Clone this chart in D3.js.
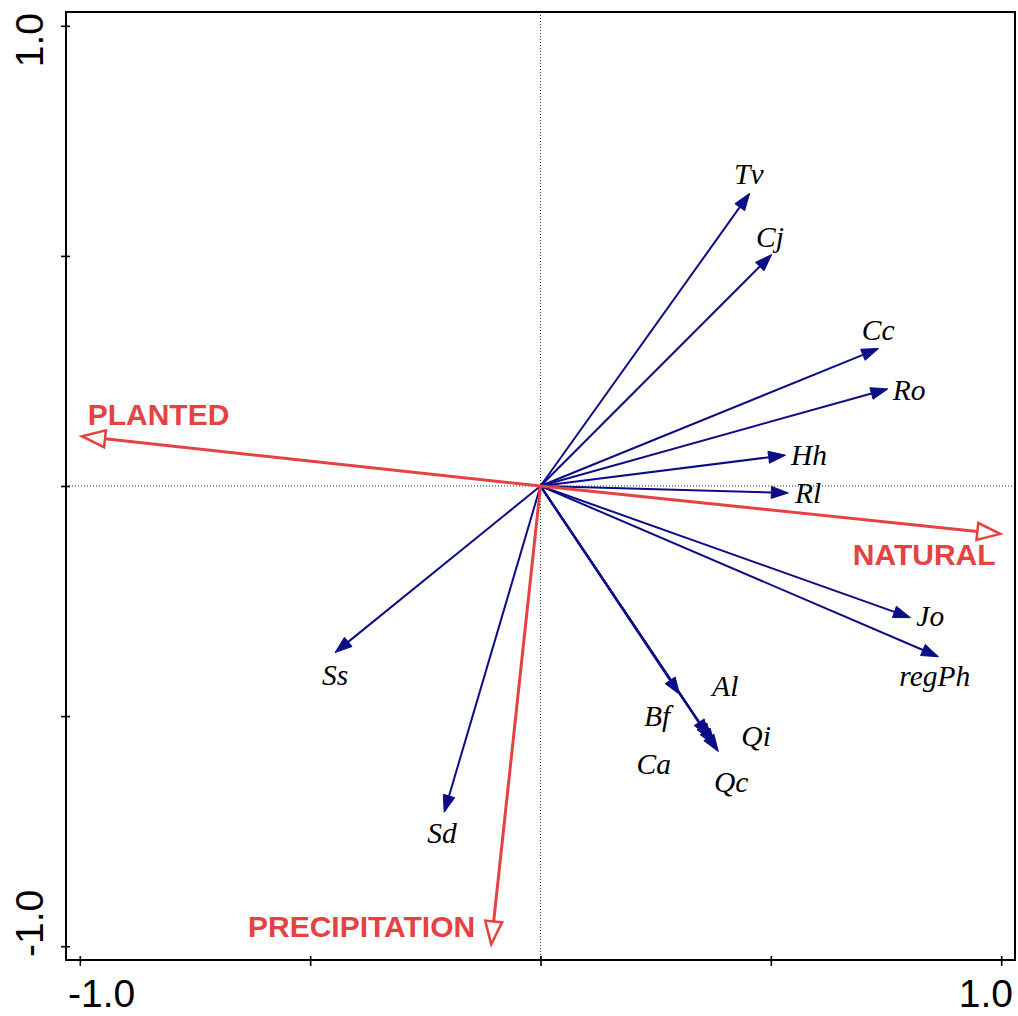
<!DOCTYPE html>
<html>
<head>
<meta charset="utf-8">
<script src="https://cdn.jsdelivr.net/npm/d3@7"></script>
<style>
  html, body { margin: 0; padding: 0; background: #fff; }
  svg { display: block; }
</style>
</head>
<body>
<svg id="chart" width="1018" height="1016"></svg>
<script>
// Species vectors (axis 1, axis 2) and where their names sit
const species = ["Tv", "Cj", "Cc", "Ro", "Hh", "Rl", "Jo", "regPh", "Ss", "Sd", "Bf", "Al", "Ca", "Qi", "Qc"];
const speciesX = [0.454, 0.502, 0.734, 0.754, 0.532, 0.538, 0.803, 0.864, -0.446, -0.209, 0.302, 0.365, 0.371, 0.378, 0.386];
const speciesY = [0.636, 0.503, 0.299, 0.211, 0.067, -0.015, -0.286, -0.371, -0.362, -0.709, -0.453, -0.544, -0.553, -0.564, -0.577];
const speciesLabelX = [0.452, 0.498, 0.733, 0.800, 0.583, 0.581, 0.846, 0.856, -0.446, -0.214, 0.253, 0.401, 0.246, 0.468, 0.414];
const speciesLabelY = [0.656, 0.519, 0.317, 0.187, 0.046, -0.037, -0.304, -0.434, -0.432, -0.775, -0.521, -0.456, -0.625, -0.564, -0.664];

// Environmental variables
const envVars = ["PLANTED", "NATURAL", "PRECIPITATION"];
const envX = [-0.995, 0.998, -0.107];
const envY = [0.108, -0.104, -0.996];
const envLabelX = [-0.983, 0.678, -0.635];
const envLabelY = [0.132, -0.171, -0.979];

// Axis ticks
const tickValues = [-1, -0.5, 0, 0.5, 1];
const tickLabels = ["-1.0", "1.0"];

const svg = d3.select("#chart");
const blue = "#0c0c88";
const red = "#e64242";

const x = d3.scaleLinear().domain([-1.03, 1.03]).range([66, 1015]);
const y = d3.scaleLinear().domain([-1.03, 1.03]).range([960, 12]);

// Dotted zero lines
svg.append("line")
  .attr("x1", x(0)).attr("x2", x(0))
  .attr("y1", y.range()[1]).attr("y2", y.range()[0])
  .attr("stroke", "#000").attr("stroke-width", 0.8).attr("stroke-dasharray", "1,2");
svg.append("line")
  .attr("x1", x.range()[0]).attr("x2", x.range()[1])
  .attr("y1", y(0)).attr("y2", y(0))
  .attr("stroke", "#000").attr("stroke-width", 0.8).attr("stroke-dasharray", "1,2");

// Ticks crossing the frame
const xAxis = svg.append("g")
  .attr("transform", `translate(0,${y.range()[0] - 4})`)
  .call(d3.axisBottom(x).tickValues(tickValues).tickSize(10).tickFormat(""));
const yAxis = svg.append("g")
  .attr("transform", `translate(${x.range()[0] + 4},0)`)
  .call(d3.axisLeft(y).tickValues(tickValues).tickSize(9).tickFormat(""));
[xAxis, yAxis].forEach(g => {
  g.select(".domain").remove();
  g.selectAll(".tick line").attr("stroke", "#000").attr("stroke-width", 1.6);
});

// Frame
svg.append("rect")
  .attr("x", x.range()[0]).attr("y", y.range()[1])
  .attr("width", x.range()[1] - x.range()[0])
  .attr("height", y.range()[0] - y.range()[1])
  .attr("fill", "none").attr("stroke", "#000").attr("stroke-width", 2);

// Tick labels at the ends, kept inside the frame width
const tickFont = "'Liberation Sans', Arial, sans-serif";
const tickSize = 39;
svg.append("text").text(tickLabels[0])
  .attr("x", x.range()[0] + 2).attr("y", 1007)
  .attr("text-anchor", "start").attr("font-family", tickFont).attr("font-size", tickSize);
svg.append("text").text(tickLabels[1])
  .attr("x", x.range()[1] - 2).attr("y", 1007)
  .attr("text-anchor", "end").attr("font-family", tickFont).attr("font-size", tickSize);
svg.append("text").text(tickLabels[0])
  .attr("transform", `translate(43,${y.range()[0] - 3}) rotate(-90)`)
  .attr("text-anchor", "start").attr("font-family", tickFont).attr("font-size", tickSize);
svg.append("text").text(tickLabels[1])
  .attr("transform", `translate(43,${y.range()[1] + 1}) rotate(-90)`)
  .attr("text-anchor", "end").attr("font-family", tickFont).attr("font-size", tickSize);

// Arrow geometry helper
function arrow(x1, y1, headLen, headHalf) {
  const x0 = x(0), y0 = y(0);
  const dx = x1 - x0, dy = y1 - y0;
  const len = Math.hypot(dx, dy);
  const ux = dx / len, uy = dy / len;
  const bx = x1 - ux * headLen, by = y1 - uy * headLen;
  const px = -uy * headHalf, py = ux * headHalf;
  return {
    line: [x0, y0, bx, by],
    head: `M${x1},${y1}L${bx + px},${by + py}L${bx - px},${by - py}Z`
  };
}

// Species arrows
const gSp = svg.append("g");
species.forEach((name, i) => {
  const a = arrow(x(speciesX[i]), y(speciesY[i]), 17, 6);
  gSp.append("line")
    .attr("x1", a.line[0]).attr("y1", a.line[1])
    .attr("x2", a.line[2]).attr("y2", a.line[3])
    .attr("stroke", blue).attr("stroke-width", 2);
  gSp.append("path").attr("d", a.head).attr("fill", blue).attr("stroke", blue).attr("stroke-width", 1);
});

// Environmental arrows with hollow heads
const gEnv = svg.append("g");
envVars.forEach((name, i) => {
  const a = arrow(x(envX[i]), y(envY[i]), 23, 8.5);
  gEnv.append("line")
    .attr("x1", a.line[0]).attr("y1", a.line[1])
    .attr("x2", a.line[2]).attr("y2", a.line[3])
    .attr("stroke", red).attr("stroke-width", 3);
  gEnv.append("path").attr("d", a.head)
    .attr("fill", "#fff").attr("stroke", red).attr("stroke-width", 2.5)
    .attr("stroke-linejoin", "miter");
});

// Species names
species.forEach((name, i) => {
  svg.append("text").text(name)
    .attr("x", x(speciesLabelX[i])).attr("y", y(speciesLabelY[i]))
    .attr("text-anchor", "middle")
    .attr("font-family", "'Liberation Serif', 'Times New Roman', serif")
    .attr("font-style", "italic")
    .attr("font-size", 29.5)
    .attr("fill", "#000");
});

// Environmental variable names
envVars.forEach((name, i) => {
  svg.append("text").text(name)
    .attr("x", x(envLabelX[i])).attr("y", y(envLabelY[i]))
    .attr("text-anchor", "start")
    .attr("font-family", "'Liberation Sans', Arial, sans-serif")
    .attr("font-weight", "bold")
    .attr("font-size", 30)
    .attr("fill", red);
});
</script>
</body>
</html>
